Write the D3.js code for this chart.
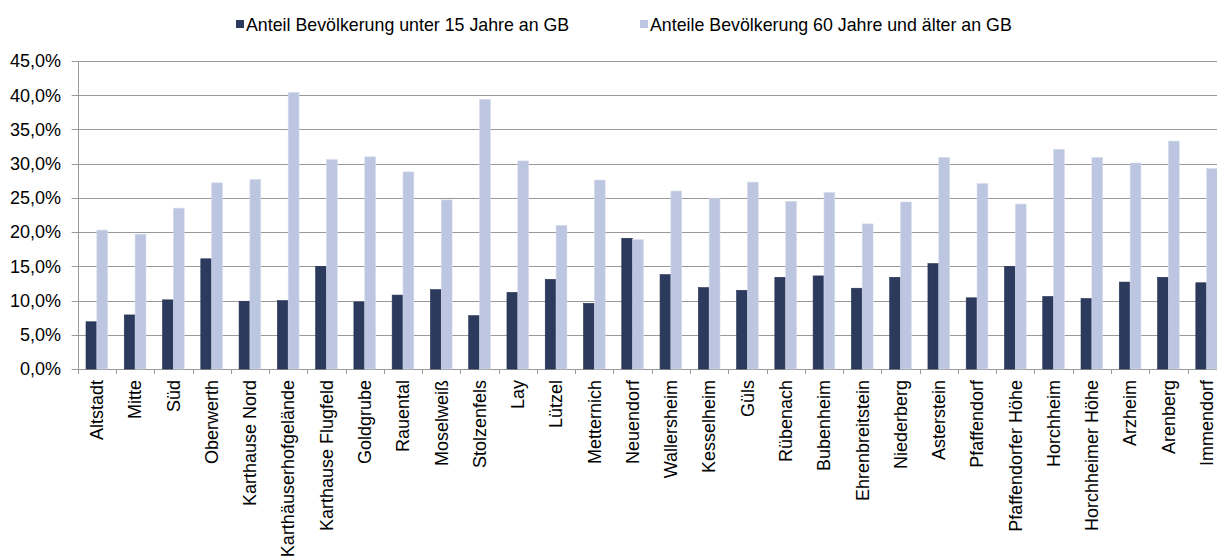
<!DOCTYPE html>
<html>
<head>
<meta charset="utf-8">
<script src="https://cdn.jsdelivr.net/npm/d3@7"></script>
<style>
  body { margin: 0; background: #fff; }
  svg { display: block; font-family: "Liberation Sans", Arial, sans-serif; }
</style>
</head>
<body>
<div id="chart"></div>
<script>
// districts (Gemeindebezirke) and shares in percent
var districts = ['Altstadt', 'Mitte', 'Süd', 'Oberwerth', 'Karthause Nord', 'Karthäuserhofgelände',
    'Karthause Flugfeld', 'Goldgrube', 'Rauental', 'Moselweiß', 'Stolzenfels', 'Lay', 'Lützel',
    'Metternich', 'Neuendorf', 'Wallersheim', 'Kesselheim', 'Güls', 'Rübenach', 'Bubenheim',
    'Ehrenbreitstein', 'Niederberg', 'Asterstein', 'Pfaffendorf', 'Pfaffendorfer Höhe', 'Horchheim',
    'Horchheimer Höhe', 'Arzheim', 'Arenberg', 'Immendorf'];

var under15 = [6.9, 7.9, 10.1, 16.1, 9.9, 10.0, 15.0, 9.8, 10.8, 11.6, 7.8, 11.2, 13.1,
    9.6, 19.1, 13.8, 11.9, 11.5, 13.4, 13.6, 11.8, 13.4, 15.4, 10.4, 15.0, 10.6,
    10.3, 12.7, 13.4, 12.6];

var over60 = [20.3, 19.7, 23.5, 27.2, 27.7, 40.4, 30.6, 31.0, 28.8, 24.7, 39.4, 30.4, 21.0,
    27.6, 18.9, 26.0, 24.9, 27.3, 24.5, 25.8, 21.2, 24.4, 30.9, 27.1, 24.1, 32.1,
    30.9, 30.1, 33.3, 29.3];

var seriesNames = ['Anteil Bevölkerung unter 15 Jahre an GB', 'Anteile Bevölkerung 60 Jahre und älter an GB'];
var yTicks = [0, 5, 10, 15, 20, 25, 30, 35, 40, 45];

var colors = ['#2b3a5d', '#bcc6e0'];
var W = 1217, H = 556;
var plotLeft = 77.7, plotTop = 61, plotBottom = 369;
var band = 38.27;

var de = d3.formatLocale({decimal: ',', thousands: '.', grouping: [3], currency: ['', '€']});
var pct = de.format('.1f');

var svg = d3.select('#chart').append('svg')
    .attr('width', W)
    .attr('height', H)

var x = d3.scaleBand()
    .domain(districts)
    .range([plotLeft, plotLeft + band * districts.length])
    .padding(0)

var inner = d3.scaleBand()
    .domain([0, 1])
    .range([8.3, band - 8.3])
    .padding(0)

var y = d3.scaleLinear()
    .domain([0, 45])
    .range([plotBottom, plotTop])

// gridlines
svg.append('g')
    .selectAll('line')
    .data(yTicks)
    .join('line')
    .attr('x1', plotLeft - 6).attr('x2', W)
    .attr('y1', d => Math.round(y(d)) + 0.5).attr('y2', d => Math.round(y(d)) + 0.5)
    .attr('stroke', '#999')
    .attr('stroke-width', 1)

// y axis line
svg.append('line')
    .attr('x1', Math.round(plotLeft) + 0.5).attr('x2', Math.round(plotLeft) + 0.5)
    .attr('y1', Math.round(plotTop)).attr('y2', Math.round(plotBottom) + 0.5)
    .attr('stroke', '#999')

// y labels
svg.append('g')
    .selectAll('text')
    .data(yTicks)
    .join('text')
    .attr('x', 61)
    .attr('y', d => y(d))
    .attr('dy', '0.35em')
    .attr('text-anchor', 'end')
    .attr('font-size', '18px')
    .attr('fill', '#000')
    .text(d => pct(d) + '%')

// category ticks between bands
svg.append('g')
    .selectAll('line')
    .data(districts)
    .join('line')
    .attr('x1', d => Math.round(x(d)) + 0.5).attr('x2', d => Math.round(x(d)) + 0.5)
    .attr('y1', plotBottom).attr('y2', plotBottom + 5)
    .attr('stroke', '#999')

// bars
var rows = districts.map((d, i) => ({name: d, vals: [under15[i], over60[i]]}))

var groups = svg.append('g')
    .selectAll('g')
    .data(rows)
    .join('g')
    .attr('transform', d => 'translate(' + x(d.name) + ',0)')

groups.selectAll('rect')
    .data(d => d.vals.map((v, k) => ({k: k, v: v})))
    .join('rect')
    .attr('x', d => inner(d.k))
    .attr('width', inner.bandwidth())
    .attr('y', d => y(d.v))
    .attr('height', d => y(0) - y(d.v))
    .attr('fill', d => colors[d.k])
    .attr('stroke', d => d.k ? '#d6dcec' : '#263352')
    .attr('stroke-width', 0.6)

// x labels, rotated
svg.append('g')
    .selectAll('text')
    .data(districts)
    .join('text')
    .attr('transform', d => 'translate(' + (x(d) + band / 2) + ',' + (plotBottom + 11) + ') rotate(-90)')
    .attr('dy', '0.35em')
    .attr('text-anchor', 'end')
    .attr('font-size', '18px')
    .attr('fill', '#000')
    .text(d => d)

// legend
var legendPos = [236, 640];
var legend = svg.append('g')
    .selectAll('g')
    .data(seriesNames)
    .join('g')
    .attr('transform', (d, i) => 'translate(' + legendPos[i] + ',20)')

legend.append('rect')
    .attr('width', 8).attr('height', 8)
    .attr('fill', (d, i) => colors[i])

legend.append('text')
    .attr('x', 10)
    .attr('y', 10.5)
    .attr('font-size', '17.8px')
    .attr('fill', '#000')
    .text(d => d)
</script>
</body>
</html>
